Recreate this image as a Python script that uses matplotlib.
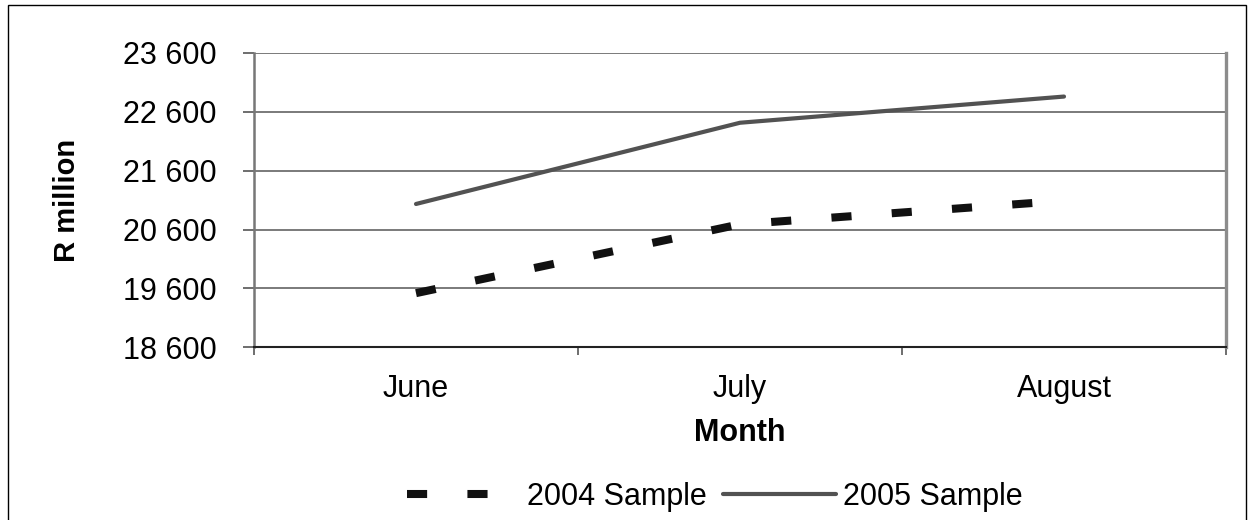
import matplotlib
matplotlib.use("Agg")
import matplotlib.pyplot as plt
from matplotlib.patches import Rectangle

# data (R million)
months = ["June", "July", "August"]
sample_2004 = [19520, 20690, 21090]
sample_2005 = [21035, 22415, 22860]
y_ticks = [18600, 19600, 20600, 21600, 22600, 23600]
y_tick_labels = [f"{v:,}".replace(",", " ") for v in y_ticks]

plt.rcParams['font.family'] = ['Liberation Sans', 'DejaVu Sans']

W, H = 1252, 520
FS = 22
fig = plt.figure(figsize=(W / 100, H / 100), dpi=100)

# outer chart border
fig.patches.append(Rectangle((7.5 / W, -0.1), (1246 - 7.5) / W, 1.1 - 5 / H,
                             transform=fig.transFigure, fill=False,
                             edgecolor='black', linewidth=1.0))

ax = fig.add_axes([254 / W, (H - 347.3) / H, (1226 - 254) / W, (347.3 - 53) / H])

x = list(range(len(months)))
l04, = ax.plot(x, sample_2004, color='#111111', linewidth=5.8,
               dashes=(2.5, 5.0), dash_capstyle='butt', label='2004 Sample')
l05, = ax.plot(x, sample_2005, color='#525252', linewidth=3.0,
               solid_capstyle='round', solid_joinstyle='round', label='2005 Sample')

ax.set_xlim(-0.5, len(months) - 0.5)
ax.set_ylim(y_ticks[0], y_ticks[-1])

# y axis
ax.set_yticks(y_ticks)
ax.set_yticklabels(y_tick_labels, fontsize=FS)
ax.tick_params(axis='y', length=8, width=1.2, color='#555555', pad=19)
ax.yaxis.grid(True, color='#7a7a7a', linewidth=1.4)
ax.set_axisbelow(True)

# x axis: tick marks between categories, labels at centres
ax.set_xticks([i - 0.5 for i in range(len(months) + 1)])
ax.set_xticklabels([])
ax.set_xticks(x, minor=True)
ax.set_xticklabels(months, minor=True, fontsize=FS)
ax.tick_params(axis='x', which='major', length=6, width=1.2, color='#555555')
ax.tick_params(axis='x', which='minor', length=0, pad=19)

ax.set_xlabel("Month", fontsize=FS, fontweight='bold', labelpad=10)
ax.set_ylabel("R million", fontsize=21, fontweight='bold', labelpad=30)

ax.spines['top'].set_visible(False)
ax.spines['left'].set_color('#777777')
ax.spines['left'].set_linewidth(1.8)
ax.spines['right'].set_color('#8c8c8c')
ax.spines['right'].set_linewidth(2.4)
ax.spines['bottom'].set_color('#222222')
ax.spines['bottom'].set_linewidth(1.5)

fig.legend(handles=[l04, l05], loc='center left',
           bbox_to_anchor=(407 / W, 1 - 497 / H), ncol=2, frameon=False,
           fontsize=FS, handlelength=3.7, handletextpad=0.23,
           columnspacing=0.52, borderpad=0, borderaxespad=0)

fig.savefig("out.png", dpi=100)
